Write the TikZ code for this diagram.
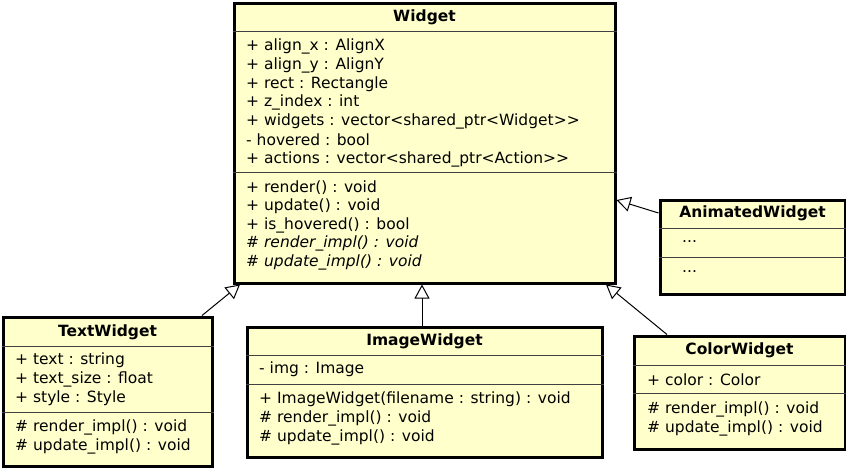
\documentclass[tikz,border=0pt]{standalone}
\usepackage{fontspec}
\setmainfont{DejaVu Sans}
\usetikzlibrary{arrows.meta}
\definecolor{umlfill}{HTML}{FFFFCC}
\tikzset{
  box/.style={draw=black, line width=3pt, fill=umlfill, anchor=north west, inner sep=0pt},
  sepline/.style={draw=black!75, line width=1pt},
  ttl/.style={font=\fontsize{15.5}{17}\selectfont\bfseries, anchor=center, inner sep=0pt},
  mem/.style={font=\fontsize{15.5}{17}\selectfont, anchor=west, inner sep=0pt},
  absmem/.style={font=\fontsize{15.5}{17}\selectfont\itshape, anchor=west, inner sep=0pt},
  inh/.style={draw=black, line width=1pt, -{Triangle[length=14pt, width=15pt, fill=white, line width=1pt]}}
}
\begin{document}
\begin{tikzpicture}[x=1pt, y=-1pt]
\useasboundingbox (0,0) rectangle (846,467);
% Widget
\node[box, minimum width=381pt, minimum height=280pt] (w) at (232.5,1.5) {};
\draw[sepline] (w.west |- 0,31) -- (w.east |- 0,31);
\draw[sepline] (w.west |- 0,172) -- (w.east |- 0,172);
\node[ttl] (wt) at (w.north |- 0,17) {Widget};
\node[mem] (w1) at (246,46) {+ align\_x : AlignX};
\node[mem] (w2) at (246,65) {+ align\_y : AlignY};
\node[mem] (w3) at (246,84) {+ rect : Rectangle};
\node[mem] (w4) at (246,102) {+ z\_index : int};
\node[mem] (w5) at (246,121) {+ widgets : vector<shared\_ptr<Widget>{}>};
\node[mem] (w6) at (246,140) {- hovered : bool};
\node[mem] (w7) at (246,159) {+ actions : vector<shared\_ptr<Action>{}>};
\node[mem] (w8) at (246,188) {+ render() : void};
\node[mem] (w9) at (246,206) {+ update() : void};
\node[mem] (w10) at (246,225) {+ is\_hovered() : bool};
\node[absmem] (w11) at (246,243) {\# render\_impl() : void};
\node[absmem] (w12) at (246,262) {\# update\_impl() : void};
% TextWidget
\node[box, minimum width=209pt, minimum height=149pt] (tw) at (1.5,315.5) {};
\draw[sepline] (tw.west |- 0,346) -- (tw.east |- 0,346);
\draw[sepline] (tw.west |- 0,412) -- (tw.east |- 0,412);
\node[ttl] (twt) at (tw.north |- 0,332) {TextWidget};
\node[mem] (tw1) at (15,360) {+ text : string};
\node[mem] (tw2) at (15,379) {+ text\_size : float};
\node[mem] (tw3) at (15,398) {+ style : Style};
\node[mem] (tw4) at (15,427) {\# render\_impl() : void};
\node[mem] (tw5) at (15,446) {\# update\_impl() : void};
% ImageWidget
\node[box, minimum width=355pt, minimum height=130pt] (iw) at (245.5,325.5) {};
\draw[sepline] (iw.west |- 0,355) -- (iw.east |- 0,355);
\draw[sepline] (iw.west |- 0,384) -- (iw.east |- 0,384);
\node[ttl] (iwt) at (iw.north |- 0,341) {ImageWidget};
\node[mem] (iw1) at (259,369) {- img : Image};
\node[mem] (iw2) at (259,399) {+ ImageWidget(filename : string) : void};
\node[mem] (iw3) at (259,418) {\# render\_impl() : void};
\node[mem] (iw4) at (259,437) {\# update\_impl() : void};
% AnimatedWidget
\node[box, minimum width=185pt, minimum height=94pt] (aw) at (658.5,198.5) {};
\draw[sepline] (aw.west |- 0,228) -- (aw.east |- 0,228);
\draw[sepline] (aw.west |- 0,257) -- (aw.east |- 0,257);
\node[ttl] (awt) at (aw.north |- 0,213) {AnimatedWidget};
\node[mem] (aw1) at (682,242) {...};
\node[mem] (aw2) at (682,272) {...};
% ColorWidget
\node[box, minimum width=211pt, minimum height=113pt] (cw) at (632.5,334.5) {};
\draw[sepline] (cw.west |- 0,365) -- (cw.east |- 0,365);
\draw[sepline] (cw.west |- 0,393) -- (cw.east |- 0,393);
\node[ttl] (cwt) at (cw.north |- 0,350) {ColorWidget};
\node[mem] (cw1) at (647,380) {+ color : Color};
\node[mem] (cw2) at (647,409) {\# render\_impl() : void};
\node[mem] (cw3) at (647,428) {\# update\_impl() : void};
% inheritance
\draw[inh] (tw.north -| 202,0) -- (w.south -| 240,0);
\draw[inh] (iw.north -| 422,0) -- (w.south -| 422,0);
\draw[inh] (cw.north -| 667,0) -- (w.south -| 606,0);
\draw[inh] (aw.west |- 0,213) -- (w.east |- 0,200);
\end{tikzpicture}
\end{document}
